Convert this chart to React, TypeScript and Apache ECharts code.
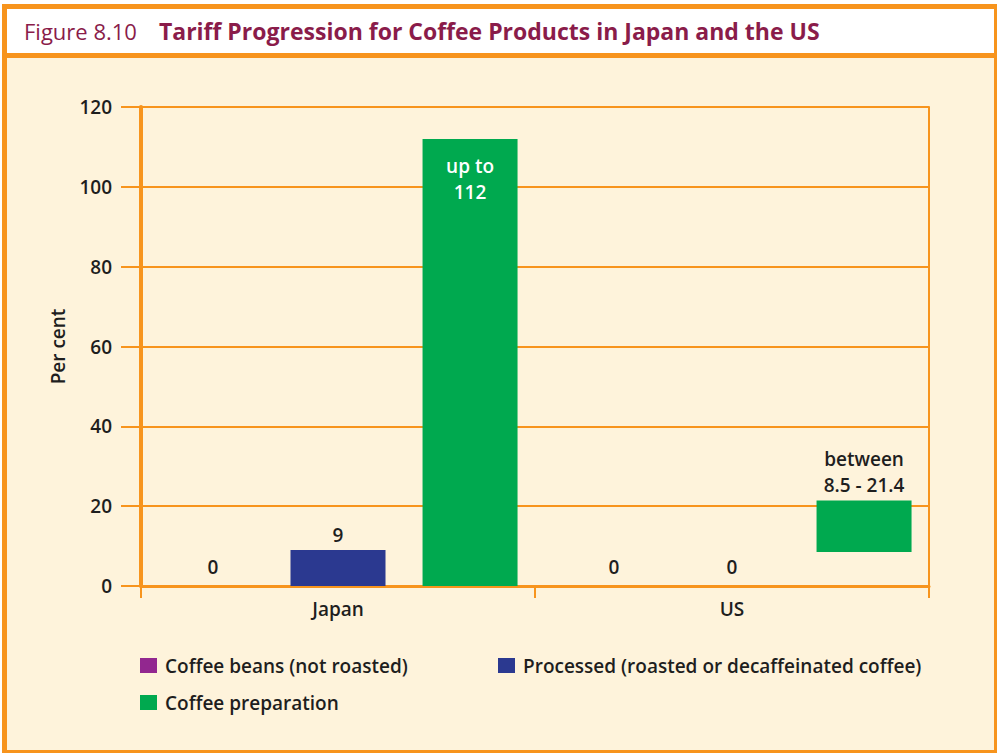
import React, { useEffect, useRef } from "react";
import * as echarts from "echarts";

const categories = ["Japan", "US"];
const seriesNames = [
  "Coffee beans (not roasted)",
  "Processed (roasted or decaffeinated coffee)",
  "Coffee preparation",
];
const beansValues = [0, 0];
const processedValues = [9, 0];
const preparationLow = [0, 8.5];
const preparationHigh = [112, 21.4];
const preparationLabels = ["up to\n112", "between\n8.5 - 21.4"];
const yTicks = [0, 20, 40, 60, 80, 100, 120];

const ORANGE = "#F7941D";
const CREAM = "#FEF3DB";
const TEXT = "#1E1E1E";
const FONT = "Open Sans";
const FS = 19;

export default function App() {
  const ref = useRef<HTMLDivElement>(null);
  useEffect(() => {
    if (!ref.current) return;
    const chart = echarts.init(ref.current, null, { renderer: "svg" });
    const yMax = yTicks[yTicks.length - 1];
    const legendText = { fontFamily: FONT, fontSize: FS, fontWeight: 600, color: TEXT, padding: [0, 0, 0, 3] };
    const option: any = {
      animation: false,
      backgroundColor: "#ffffff",
      textStyle: { fontFamily: FONT },
      graphic: [
        { type: "rect", z: -10, silent: true, shape: { x: 2, y: 4, width: 995, height: 749 }, style: { fill: ORANGE } },
        { type: "rect", z: -9, silent: true, shape: { x: 7, y: 9, width: 987, height: 44 }, style: { fill: "#ffffff" } },
        { type: "rect", z: -9, silent: true, shape: { x: 7, y: 58, width: 987, height: 692 }, style: { fill: CREAM } },
      ],
      title: {
        left: 24,
        top: 19,
        padding: 0,
        text: "{a|Figure 8.10}{b|Tariff Progression for Coffee Products in Japan and the US}",
        textStyle: {
          rich: {
            a: { fontFamily: FONT, fontSize: 22, fontWeight: 400, color: "#8A1C4A" },
            b: { fontFamily: FONT, fontSize: 23, fontWeight: 700, color: "#8A1C4A", padding: [0, 0, 0, 22] },
          },
        },
      },
      legend: [
        {
          data: [seriesNames[0]],
          left: 140, top: 656, padding: 0,
          itemWidth: 17, itemHeight: 15, icon: "rect",
          textStyle: legendText,
          selectedMode: false,
        },
        {
          data: [seriesNames[1]],
          left: 498, top: 656, padding: 0,
          itemWidth: 17, itemHeight: 15, icon: "rect",
          textStyle: legendText,
          selectedMode: false,
        },
        {
          data: [seriesNames[2]],
          left: 140, top: 693, padding: 0,
          itemWidth: 17, itemHeight: 15, icon: "rect",
          textStyle: legendText,
          selectedMode: false,
        },
      ],
      grid: { left: 141, right: 68, top: 107, bottom: 167, containLabel: false },
      xAxis: {
        type: "category",
        data: categories,
        axisLine: { show: true, lineStyle: { color: ORANGE, width: 3 } },
        axisTick: { show: true, length: 12, lineStyle: { color: ORANGE, width: 2 } },
        axisLabel: { margin: 13, fontFamily: FONT, fontSize: FS, fontWeight: 600, color: TEXT },
      },
      yAxis: [
        {
          type: "value",
          min: 0,
          max: yMax,
          interval: 20,
          name: "Per cent",
          nameLocation: "middle",
          nameGap: 74,
          nameTextStyle: { fontFamily: FONT, fontSize: FS, fontWeight: 600, color: TEXT },
          axisLine: { show: true, lineStyle: { color: ORANGE, width: 4 } },
          axisTick: { show: true, inside: false, length: 20, lineStyle: { color: ORANGE, width: 2 } },
          axisLabel: { margin: 29, fontFamily: FONT, fontSize: FS, fontWeight: 600, color: TEXT },
          splitLine: { show: true, lineStyle: { color: ORANGE, width: 2 } },
        },
        {
          type: "value",
          position: "right",
          min: 0,
          max: yMax,
          interval: 20,
          axisLine: { show: true, lineStyle: { color: ORANGE, width: 2 } },
          axisTick: { show: false },
          axisLabel: { show: false },
          splitLine: { show: false },
        },
      ],
      series: [
        {
          name: seriesNames[0],
          type: "bar",
          barWidth: 95,
          barGap: "39%",
          itemStyle: { color: "#92278F" },
          label: {
            show: true, position: "top", distance: 10,
            fontFamily: FONT, fontSize: FS, fontWeight: 600, color: TEXT,
          },
          data: beansValues.map((v, i) => ({ value: v, label: { offset: [i === 0 ? 7 : 14, 0] } })),
        },
        {
          name: seriesNames[1],
          type: "bar",
          barWidth: 95,
          barGap: "39%",
          itemStyle: { color: "#2B3990" },
          label: {
            show: true, position: "top",
            fontFamily: FONT, fontSize: FS, fontWeight: 600, color: TEXT,
          },
          data: processedValues.map((v) => ({ value: v, label: { distance: v === 0 ? 10 : 6 } })),
        },
        {
          name: "base",
          type: "bar",
          stack: "prep",
          barWidth: 95,
          barGap: "39%",
          itemStyle: { color: "rgba(0,0,0,0)" },
          label: { show: false },
          data: preparationLow,
        },
        {
          name: seriesNames[2],
          type: "bar",
          stack: "prep",
          barWidth: 95,
          barGap: "39%",
          itemStyle: { color: "#00A94F" },
          data: preparationHigh.map((v, i) => ({
            value: v - preparationLow[i],
            label: i === 0
              ? {
                  show: true, position: "insideTop", distance: 14, lineHeight: 26,
                  fontFamily: FONT, fontSize: FS, fontWeight: 600, color: "#ffffff",
                  formatter: preparationLabels[i],
                }
              : {
                  show: true, position: "top", distance: 3, lineHeight: 26,
                  fontFamily: FONT, fontSize: FS, fontWeight: 600, color: TEXT,
                  formatter: preparationLabels[i],
                },
          })),
        },
      ],
    };
    chart.setOption(option);
    return () => chart.dispose();
  }, []);
  return (
    <div
      ref={ref}
      style={{ position: "fixed", left: 0, top: 0, width: 997, height: 753 }}
    />
  );
}
